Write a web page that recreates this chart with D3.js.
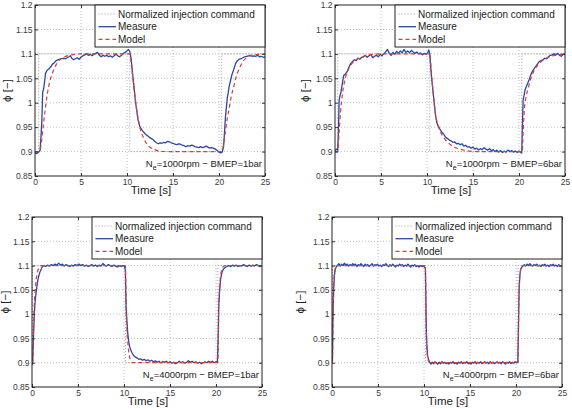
<!DOCTYPE html>
<html>
<head>
<meta charset="utf-8">
<script src="https://cdn.jsdelivr.net/npm/d3@7"></script>
<style>
  body { margin: 0; background: #fff; }
  svg { display: block; font-family: "Liberation Sans", Arial, sans-serif; }
</style>
</head>
<body>
<script>
var width = 572,
    height = 409;

var xTicks = [0, 5, 10, 15, 20, 25];
var yTicks = [0.85, 0.9, 0.95, 1, 1.05, 1.1, 1.15, 1.2];
var yTickLabels = ["0.85", "0.9", "0.95", "1", "1.05", "1.1", "1.15", "1.2"];
var legendLabels = ["Normalized injection command", "Measure", "Model"];
var speeds = ["1000", "1000", "4000", "4000"];
var bmeps = ["1", "6", "1", "6"];

// normalized injection command, [time s, phi]
var command1 = [[0, 0.9], [0.4, 0.9], [0.4, 1.1], [10.3, 1.1], [10.3, 0.9], [20.3, 0.9], [20.3, 1.1], [25, 1.1]];
var command2 = [[0, 0.9], [0.3, 0.9], [0.3, 1.1], [10.3, 1.1], [10.3, 0.9], [20.3, 0.9], [20.3, 1.1], [25, 1.1]];
var command3 = [[0, 0.9], [0.05, 0.9], [0.05, 1.1], [10.15, 1.1], [10.15, 0.9], [20.2, 0.9], [20.2, 1.1], [25, 1.1]];
var command4 = [[0, 0.9], [0.04, 0.9], [0.04, 1.1], [10.15, 1.1], [10.15, 0.9], [20.22, 0.9], [20.22, 1.1], [25, 1.1]];

// Ne=1000rpm BMEP=1bar
var measure1 = [[0,0.897],[0.2,0.896],[0.4,0.899],[0.55,0.902],[0.65,0.93],[0.75,0.965],[0.83,1.02],[0.95,1.03],[1.05,1.045],[1.15,1.06],[1.3,1.066],[1.5,1.069],[1.7,1.073],[1.9,1.079],[2.1,1.082],[2.3,1.086],[2.5,1.088],[2.7,1.089],[2.9,1.09],[3.1,1.091],[3.3,1.09],[3.5,1.092],[3.7,1.094],[3.85,1.096],[4.0,1.091],[4.2,1.088],[4.4,1.09],[4.6,1.092],[4.8,1.089],[5.0,1.093],[5.2,1.096],[5.4,1.098],[5.6,1.1],[5.8,1.097],[6.0,1.099],[6.2,1.096],[6.4,1.099],[6.6,1.101],[6.8,1.103],[7.0,1.097],[7.2,1.094],[7.4,1.097],[7.6,1.095],[7.8,1.097],[8.0,1.094],[8.2,1.096],[8.4,1.093],[8.6,1.096],[8.8,1.099],[9.0,1.096],[9.2,1.094],[9.4,1.097],[9.6,1.101],[9.8,1.103],[10.0,1.106],[10.15,1.109],[10.3,1.105],[10.45,1.09],[10.6,1.06],[10.75,1.035],[10.9,1.005],[11.05,0.985],[11.2,0.965],[11.4,0.951],[11.6,0.945],[11.8,0.94],[12.0,0.936],[12.2,0.933],[12.4,0.93],[12.6,0.927],[12.8,0.925],[13.0,0.921],[13.2,0.918],[13.4,0.916],[13.6,0.918],[13.8,0.917],[14.0,0.919],[14.2,0.918],[14.4,0.921],[14.6,0.92],[14.8,0.918],[15.0,0.917],[15.2,0.915],[15.4,0.914],[15.6,0.916],[15.8,0.915],[16.0,0.913],[16.2,0.912],[16.4,0.91],[16.6,0.912],[16.8,0.911],[17.0,0.913],[17.2,0.912],[17.4,0.91],[17.6,0.909],[17.8,0.908],[18.0,0.91],[18.2,0.908],[18.4,0.909],[18.6,0.911],[18.8,0.909],[19.0,0.907],[19.2,0.908],[19.4,0.907],[19.6,0.905],[19.8,0.902],[20.0,0.899],[20.2,0.897],[20.35,0.899],[20.5,0.91],[20.6,0.94],[20.7,0.97],[20.8,0.99],[20.9,1.01],[21.0,1.02],[21.1,1.033],[21.25,1.045],[21.4,1.057],[21.6,1.068],[21.8,1.08],[22.0,1.086],[22.2,1.089],[22.4,1.09],[22.6,1.092],[22.8,1.094],[23.0,1.095],[23.2,1.096],[23.4,1.097],[23.6,1.095],[23.8,1.096],[24.0,1.095],[24.2,1.097],[24.4,1.094],[24.6,1.095],[24.8,1.093],[25,1.094]];
var model1 = [[0,0.9],[0.5,0.9],[0.7,0.92],[0.9,0.953],[1.1,0.985],[1.3,1.013],[1.5,1.035],[1.7,1.05],[2.0,1.066],[2.3,1.078],[2.6,1.086],[3.0,1.092],[3.5,1.096],[4.0,1.098],[5.0,1.1],[10.3,1.1],[10.5,1.075],[10.7,1.04],[10.9,1.008],[11.1,0.98],[11.3,0.958],[11.5,0.942],[11.8,0.928],[12.1,0.917],[12.5,0.909],[13.0,0.904],[13.5,0.901],[14.5,0.9],[20.3,0.9],[20.5,0.915],[20.7,0.942],[20.9,0.968],[21.1,0.988],[21.3,1.01],[21.6,1.033],[21.9,1.055],[22.2,1.07],[22.6,1.084],[23.0,1.092],[23.5,1.097],[24.2,1.099],[25,1.1]];

// Ne=1000rpm BMEP=6bar
var measure2 = [[0,0.902],[0.15,0.905],[0.3,0.903],[0.38,0.95],[0.45,1.005],[0.55,1.015],[0.65,1.022],[0.8,1.04],[0.95,1.056],[1.1,1.058],[1.3,1.063],[1.5,1.072],[1.7,1.08],[1.9,1.084],[2.1,1.088],[2.3,1.086],[2.5,1.091],[2.7,1.089],[2.9,1.093],[3.1,1.094],[3.3,1.097],[3.5,1.093],[3.7,1.096],[3.9,1.099],[4.1,1.092],[4.3,1.095],[4.5,1.097],[4.7,1.094],[4.9,1.099],[5.1,1.096],[5.3,1.1],[5.5,1.104],[5.7,1.109],[5.9,1.101],[6.1,1.097],[6.3,1.103],[6.5,1.099],[6.7,1.105],[6.9,1.101],[7.1,1.106],[7.3,1.102],[7.5,1.109],[7.7,1.103],[7.9,1.106],[8.1,1.102],[8.3,1.107],[8.5,1.104],[8.7,1.101],[8.9,1.104],[9.1,1.1],[9.3,1.102],[9.5,1.098],[9.7,1.101],[9.9,1.099],[10.1,1.103],[10.2,1.108],[10.3,1.1],[10.4,1.074],[10.5,1.05],[10.6,1.033],[10.75,1.005],[10.9,0.978],[11.05,0.96],[11.2,0.953],[11.4,0.946],[11.6,0.94],[11.8,0.936],[12.0,0.93],[12.2,0.927],[12.4,0.924],[12.6,0.922],[12.8,0.919],[13.0,0.92],[13.2,0.916],[13.4,0.917],[13.6,0.914],[13.8,0.916],[14.0,0.911],[14.2,0.913],[14.4,0.909],[14.6,0.91],[14.8,0.907],[15.0,0.909],[15.2,0.905],[15.4,0.907],[15.6,0.903],[15.8,0.906],[16.0,0.904],[16.2,0.908],[16.4,0.905],[16.6,0.903],[16.8,0.906],[17.0,0.902],[17.2,0.904],[17.4,0.9],[17.6,0.903],[17.8,0.899],[18.0,0.902],[18.2,0.898],[18.4,0.901],[18.6,0.899],[18.8,0.903],[19.0,0.9],[19.2,0.902],[19.4,0.899],[19.6,0.901],[19.8,0.898],[20.0,0.901],[20.2,0.898],[20.3,0.897],[20.38,0.96],[20.45,1.006],[20.55,1.015],[20.65,1.026],[20.8,1.033],[20.95,1.04],[21.1,1.047],[21.3,1.058],[21.45,1.064],[21.6,1.068],[21.8,1.074],[22.0,1.079],[22.2,1.084],[22.4,1.086],[22.6,1.088],[22.8,1.091],[23.0,1.09],[23.2,1.094],[23.4,1.097],[23.6,1.098],[23.8,1.1],[24.0,1.098],[24.2,1.101],[24.4,1.097],[24.6,1.095],[24.8,1.099],[25,1.1]];
var model2 = [[0,0.9],[0.3,0.9],[0.45,0.94],[0.6,0.98],[0.8,1.017],[1.0,1.04],[1.2,1.056],[1.5,1.07],[1.8,1.079],[2.1,1.085],[2.5,1.09],[3.0,1.094],[3.5,1.097],[4.2,1.099],[5.0,1.1],[10.3,1.1],[10.45,1.07],[10.6,1.035],[10.75,1.005],[10.9,0.98],[11.1,0.96],[11.3,0.948],[11.6,0.935],[12.0,0.924],[12.5,0.915],[13.0,0.909],[13.6,0.905],[14.3,0.902],[15.5,0.9],[20.35,0.9],[20.45,0.94],[20.6,0.99],[20.75,1.01],[21.0,1.03],[21.3,1.05],[21.6,1.064],[22.0,1.076],[22.4,1.084],[22.9,1.09],[23.5,1.095],[24.2,1.098],[25,1.1]];

// Ne=4000rpm BMEP=1bar
var measure3 = [[0,0.895],[0.08,0.9],[0.15,0.948],[0.25,1.0],[0.33,1.024],[0.42,1.04],[0.5,1.052],[0.6,1.066],[0.7,1.076],[0.85,1.086],[1.0,1.093],[1.15,1.098],[1.3,1.1],[1.5,1.098],[1.7,1.101],[1.9,1.099],[2.1,1.102],[2.3,1.1],[2.5,1.103],[2.7,1.101],[2.9,1.105],[3.1,1.101],[3.3,1.103],[3.5,1.099],[3.7,1.102],[3.9,1.1],[4.1,1.098],[4.3,1.101],[4.5,1.099],[4.7,1.102],[4.9,1.1],[5.1,1.103],[5.3,1.1],[5.5,1.102],[5.7,1.099],[5.9,1.101],[6.1,1.098],[6.3,1.1],[6.5,1.102],[6.7,1.099],[6.9,1.101],[7.1,1.098],[7.3,1.101],[7.5,1.099],[7.7,1.104],[7.9,1.101],[8.1,1.099],[8.3,1.102],[8.5,1.1],[8.7,1.098],[8.9,1.101],[9.1,1.099],[9.3,1.097],[9.5,1.1],[9.7,1.098],[9.9,1.1],[10.05,1.098],[10.15,1.09],[10.23,1.017],[10.32,0.985],[10.4,0.962],[10.5,0.945],[10.6,0.934],[10.72,0.927],[10.85,0.921],[11.0,0.916],[11.2,0.912],[11.4,0.91],[11.6,0.907],[11.8,0.908],[12.0,0.905],[12.2,0.907],[12.4,0.904],[12.6,0.906],[12.8,0.903],[13.0,0.905],[13.2,0.902],[13.4,0.904],[13.6,0.901],[13.8,0.903],[14.0,0.9],[14.2,0.902],[14.4,0.901],[14.6,0.903],[14.8,0.9],[15.0,0.902],[15.2,0.899],[15.4,0.901],[15.6,0.898],[15.8,0.9],[16.0,0.903],[16.2,0.9],[16.4,0.902],[16.6,0.899],[16.8,0.901],[17.0,0.904],[17.2,0.901],[17.4,0.903],[17.6,0.9],[17.8,0.902],[18.0,0.899],[18.2,0.901],[18.4,0.898],[18.6,0.9],[18.8,0.902],[19.0,0.9],[19.2,0.903],[19.4,0.901],[19.6,0.903],[19.8,0.9],[20.0,0.902],[20.15,0.903],[20.25,0.96],[20.3,1.017],[20.4,1.05],[20.5,1.072],[20.65,1.086],[20.8,1.093],[21.0,1.096],[21.2,1.098],[21.4,1.1],[21.6,1.098],[21.8,1.101],[22.0,1.099],[22.2,1.101],[22.4,1.098],[22.6,1.1],[22.8,1.099],[23.0,1.102],[23.2,1.1],[23.4,1.098],[23.6,1.101],[23.8,1.099],[24.0,1.101],[24.2,1.099],[24.4,1.102],[24.6,1.1],[24.8,1.098],[25,1.1]];
var model3 = [[0,0.9],[0.05,0.9],[0.15,0.962],[0.25,1.02],[0.33,1.045],[0.45,1.07],[0.58,1.086],[0.72,1.094],[0.87,1.098],[1.1,1.1],[10.15,1.1],[10.23,1.017],[10.32,0.965],[10.4,0.945],[10.5,0.925],[10.6,0.912],[10.72,0.905],[10.85,0.901],[11.1,0.9],[20.2,0.9],[20.3,1.017],[20.38,1.05],[20.45,1.07],[20.55,1.085],[20.65,1.093],[20.8,1.098],[21.1,1.1],[25,1.1]];

// Ne=4000rpm BMEP=6bar
var measure4 = [[0,0.9],[0.05,0.904],[0.1,0.99],[0.18,1.05],[0.26,1.08],[0.35,1.092],[0.45,1.097],[0.6,1.101],[0.75,1.104],[0.9,1.099],[1.05,1.103],[1.2,1.1],[1.35,1.105],[1.5,1.101],[1.65,1.103],[1.8,1.099],[1.95,1.102],[2.1,1.1],[2.25,1.104],[2.4,1.101],[2.55,1.103],[2.7,1.098],[2.85,1.102],[3.0,1.1],[3.15,1.104],[3.3,1.101],[3.45,1.098],[3.6,1.103],[3.75,1.1],[3.9,1.102],[4.05,1.098],[4.2,1.101],[4.35,1.104],[4.5,1.099],[4.65,1.102],[4.8,1.1],[4.95,1.103],[5.1,1.099],[5.25,1.101],[5.4,1.098],[5.55,1.102],[5.7,1.1],[5.85,1.104],[6.0,1.101],[6.15,1.098],[6.3,1.102],[6.45,1.099],[6.6,1.103],[6.75,1.1],[6.9,1.097],[7.05,1.101],[7.2,1.099],[7.35,1.103],[7.5,1.1],[7.65,1.102],[7.8,1.098],[7.95,1.101],[8.1,1.099],[8.25,1.103],[8.4,1.1],[8.55,1.097],[8.7,1.101],[8.85,1.099],[9.0,1.102],[9.15,1.098],[9.3,1.1],[9.45,1.097],[9.6,1.1],[9.75,1.098],[9.9,1.099],[10.05,1.097],[10.15,1.095],[10.2,1.04],[10.26,0.962],[10.33,0.93],[10.4,0.914],[10.5,0.906],[10.6,0.902],[10.75,0.897],[10.9,0.901],[11.05,0.898],[11.2,0.902],[11.35,0.899],[11.5,0.897],[11.65,0.901],[11.8,0.898],[11.95,0.902],[12.1,0.899],[12.25,0.901],[12.4,0.898],[12.55,0.9],[12.7,0.897],[12.85,0.901],[13.0,0.899],[13.15,0.902],[13.3,0.898],[13.45,0.9],[13.6,0.897],[13.75,0.901],[13.9,0.899],[14.05,0.902],[14.2,0.898],[14.35,0.901],[14.5,0.899],[14.65,0.902],[14.8,0.898],[14.95,0.9],[15.1,0.897],[15.25,0.901],[15.4,0.899],[15.55,0.902],[15.7,0.898],[15.85,0.901],[16.0,0.899],[16.15,0.902],[16.3,0.898],[16.45,0.9],[16.6,0.902],[16.75,0.899],[16.9,0.901],[17.05,0.898],[17.2,0.902],[17.35,0.899],[17.5,0.901],[17.65,0.898],[17.8,0.9],[17.95,0.902],[18.1,0.899],[18.25,0.901],[18.4,0.898],[18.55,0.902],[18.7,0.9],[18.85,0.897],[19.0,0.901],[19.15,0.899],[19.3,0.902],[19.45,0.898],[19.6,0.901],[19.75,0.899],[19.9,0.902],[20.05,0.9],[20.2,0.901],[20.27,0.98],[20.34,1.052],[20.42,1.08],[20.5,1.092],[20.6,1.096],[20.75,1.099],[20.9,1.102],[21.05,1.099],[21.2,1.103],[21.35,1.1],[21.5,1.104],[21.65,1.101],[21.8,1.099],[21.95,1.102],[22.1,1.1],[22.25,1.103],[22.4,1.099],[22.55,1.101],[22.7,1.098],[22.85,1.102],[23.0,1.1],[23.15,1.103],[23.3,1.099],[23.45,1.101],[23.6,1.098],[23.75,1.102],[23.9,1.1],[24.05,1.103],[24.2,1.099],[24.35,1.101],[24.5,1.098],[24.65,1.102],[24.8,1.099],[25,1.1]];
var model4 = [[0,0.9],[0.04,0.9],[0.1,0.983],[0.2,1.066],[0.3,1.088],[0.45,1.097],[0.65,1.1],[10.15,1.1],[10.22,0.99],[10.3,0.93],[10.4,0.91],[10.5,0.903],[10.7,0.9],[20.22,0.9],[20.3,1.01],[20.38,1.066],[20.48,1.088],[20.6,1.097],[20.8,1.1],[25,1.1]];

var panels = [
  {left: 35,  top: 5,   w: 230, h: 171, yLabelOff: 28, command: command1, measure: measure1, model: model1},
  {left: 335, top: 5,   w: 230, h: 171, yLabelOff: 30, command: command2, measure: measure2, model: model2},
  {left: 32,  top: 217, w: 230, h: 170, yLabelOff: 27, command: command3, measure: measure3, model: model3},
  {left: 332, top: 217, w: 230, h: 170, yLabelOff: 32, command: command4, measure: measure4, model: model4}
];

var svg = d3.select("body")
  .append("svg")
  .attr("width", width)
  .attr("height", height);

svg.append("rect").attr("width", width).attr("height", height).attr("fill", "#fff");

var blue = "#2747a8",
    red = "#e2392f";

panels.forEach(function(p, i) {
  var x = d3.scaleLinear().domain([0, 25]).range([0, p.w]);
  var y = d3.scaleLinear().domain([0.85, 1.2]).range([p.h, 0]);

  var g = svg.append("g").attr("transform", "translate(" + p.left + "," + p.top + ")");

  g.append("clipPath").attr("id", "clip" + i)
    .append("rect").attr("width", p.w).attr("height", p.h);

  // grid
  g.selectAll(".vgrid").data(xTicks.slice(1, -1)).enter().append("line")
    .attr("x1", function(d) { return x(d); })
    .attr("x2", function(d) { return x(d); })
    .attr("y1", 0).attr("y2", p.h)
    .attr("stroke", "#b0b0b0").attr("stroke-width", 0.8)
    .attr("stroke-dasharray", "1,2");
  g.selectAll(".hgrid").data(yTicks.slice(1, -1)).enter().append("line")
    .attr("x1", 0).attr("x2", p.w)
    .attr("y1", function(d) { return y(d); })
    .attr("y2", function(d) { return y(d); })
    .attr("stroke", "#b0b0b0").attr("stroke-width", 0.8)
    .attr("stroke-dasharray", "1,2");

  var line = d3.line()
    .x(function(d) { return x(d[0]); })
    .y(function(d) { return y(d[1]); });
  var smooth = d3.line()
    .x(function(d) { return x(d[0]); })
    .y(function(d) { return y(d[1]); })
    .curve(d3.curveMonotoneX);

  var plot = g.append("g").attr("clip-path", "url(#clip" + i + ")");
  plot.append("path").datum(p.command)
    .attr("d", line).attr("fill", "none")
    .attr("stroke", "#999").attr("stroke-width", 1)
    .attr("stroke-dasharray", "1,2");
  plot.append("path").datum(p.measure)
    .attr("d", line).attr("fill", "none")
    .attr("stroke", blue).attr("stroke-width", 1.3)
    .attr("stroke-linejoin", "round");
  plot.append("path").datum(p.model)
    .attr("d", smooth).attr("fill", "none")
    .attr("stroke", red).attr("stroke-width", 1.2)
    .attr("stroke-dasharray", "4,3");

  // axes, ticks inside like matlab
  var xAxis = d3.axisBottom(x).tickValues(xTicks).tickSizeInner(-3).tickSizeOuter(0).tickPadding(3)
    .tickFormat(d3.format("d"));
  var yAxis = d3.axisLeft(y).tickValues(yTicks).tickSizeInner(-3).tickSizeOuter(0).tickPadding(2.5)
    .tickFormat(function(d, k) { return yTickLabels[k]; });

  var gx = g.append("g").attr("transform", "translate(0," + p.h + ")").call(xAxis);
  var gy = g.append("g").call(yAxis);
  g.append("g").call(d3.axisTop(x).tickValues(xTicks).tickSizeInner(-3).tickSizeOuter(0).tickFormat(""));
  g.append("g").attr("transform", "translate(" + p.w + ",0)")
    .call(d3.axisRight(y).tickValues(yTicks).tickSizeInner(-3).tickSizeOuter(0).tickFormat(""));

  g.selectAll(".domain").remove();
  g.selectAll(".tick line").attr("stroke", "#333");
  [gx, gy].forEach(function(a) {
    a.selectAll("text").attr("fill", "#3a3a3a").attr("font-size", "8.5px")
      .attr("font-family", "Liberation Sans, Arial, sans-serif");
  });

  g.append("rect").attr("width", p.w).attr("height", p.h)
    .attr("fill", "none").attr("stroke", "#222").attr("stroke-width", 1);

  // axis titles
  g.append("text")
    .attr("x", p.w / 2 + 1).attr("y", p.h + 18)
    .attr("text-anchor", "middle")
    .attr("font-size", "11.5px").attr("fill", "#222")
    .text("Time [s]");
  g.append("text")
    .attr("transform", "translate(" + (-p.yLabelOff) + "," + (p.h / 2) + ") rotate(-90)")
    .attr("text-anchor", "middle")
    .attr("dy", "0.35em")
    .attr("font-size", "11.5px").attr("fill", "#222")
    .text("ϕ [−]");

  // operating point note
  var note = g.append("text")
    .attr("x", p.w - 3).attr("y", p.h - 9)
    .attr("text-anchor", "end")
    .attr("font-size", "9.5px").attr("fill", "#222");
  note.append("tspan").text("N");
  note.append("tspan").attr("font-size", "7px").attr("dy", 3).text("e");
  note.append("tspan").attr("dy", -3).text("=" + speeds[i] + "rpm − BMEP=" + bmeps[i] + "bar");

  // legend
  var lw = 170, lh = 42;
  var leg = g.append("g").attr("transform", "translate(" + (p.w - lw) + ",0)");
  leg.append("rect").attr("width", lw).attr("height", lh)
    .attr("fill", "#fff").attr("stroke", "#222").attr("stroke-width", 1);
  var styles = [
    {stroke: "#999", dash: "1,2", sw: 1},
    {stroke: blue, dash: null, sw: 1.3},
    {stroke: red, dash: "4,3", sw: 1.2}
  ];
  legendLabels.forEach(function(lab, k) {
    var cy = 9 + k * 12.7;
    leg.append("line")
      .attr("x1", 3.5).attr("x2", 21).attr("y1", cy).attr("y2", cy)
      .attr("stroke", styles[k].stroke).attr("stroke-width", styles[k].sw)
      .attr("stroke-dasharray", styles[k].dash);
    leg.append("text")
      .attr("x", 23).attr("y", cy).attr("dy", "0.35em")
      .attr("font-size", "10px").attr("fill", "#222")
      .text(lab);
  });
});
</script>
</body>
</html>
